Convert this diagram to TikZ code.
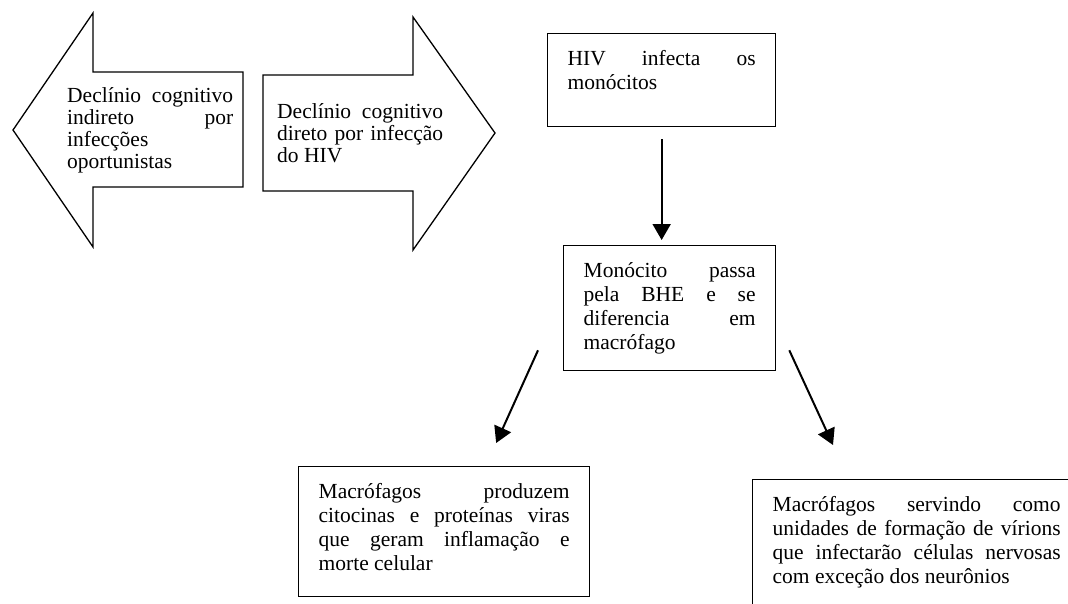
\documentclass[tikz,border=0pt]{standalone}
\usepackage{fontspec}
\setmainfont{Liberation Serif}
\usetikzlibrary{arrows.meta,calc}
\hyphenpenalty=10000
\tolerance=9999
\tikzset{%
  caixa/.style  = {draw, line width=1.3pt, anchor=north west,%
                   inner xsep=20pt, inner ysep=0pt, text height=32pt,%
                   align=justify, font=\fontsize{21.5}{24}\selectfont},%
  seta/.style   = {draw, line width=1.3pt, line join=miter},%
  rotulo/.style = {anchor=base west, inner sep=0pt, text width=166pt,%
                   align=justify, font=\fontsize{21.5}{22}\selectfont},%
  fluxo/.style  = {line width=2pt, -{Triangle[length=16pt,width=18pt]}}%
}

\begin{document}
\begin{tikzpicture}[x=1pt,y=-1pt]
	\clip (0,0) rectangle (1068,603);%
	% setas grandes
	\draw[seta] (243,72) -- (93,72) -- (93,13) -- (13,130) -- (93,247)%
		-- (93,187) -- (243,187) -- cycle;%
	\draw[seta] (263,75) -- (413,75) -- (413,17) -- (495,133) -- (413,250)%
		-- (413,191) -- (263,191) -- cycle;%
	\node[rotulo] (indireto) at (67,102)%
		{Declínio cognitivo\linebreak indireto por\linebreak infecções\newline oportunistas};%
	\node[rotulo] (direto) at (277,118)%
		{Declínio cognitivo\linebreak direto por infecção\linebreak do HIV};%
	% caixas do fluxo
	\node[caixa, text width=188pt, text depth=61pt] (hiv) at (547,33)%
		{HIV infecta os\linebreak monócitos};%
	\node[caixa, text width=172pt, text depth=93pt] (mono) at (563,245)%
		{Monócito passa\linebreak pela BHE e se\linebreak diferencia em\linebreak macrófago};%
	\node[caixa, text width=251pt, text depth=98pt] (citoc) at (298,466)%
		{Macrófagos produzem\linebreak citocinas e proteínas viras\linebreak
		 que geram inflamação e\linebreak morte celular};%
	\node[caixa, text width=288pt, text depth=140pt] (virions) at (752,479)%
		{Macrófagos servindo como\linebreak unidades de formação de vírions\linebreak
		 que infectarão células nervosas\linebreak com exceção dos neurônios};%
	% setas do fluxo
	\draw[fluxo, shorten <=12pt, shorten >=5pt] (hiv.south) -- (hiv.south |- mono.north);%
	\draw[fluxo] ([xshift=-25pt,yshift=21pt]mono.south west) -- ([xshift=52pt,yshift=23pt]citoc.north);%
	\draw[fluxo] ([xshift=13pt,yshift=21pt]mono.south east) -- ([xshift=81pt,yshift=34pt]virions.north west);%
\end{tikzpicture}
\end{document}
